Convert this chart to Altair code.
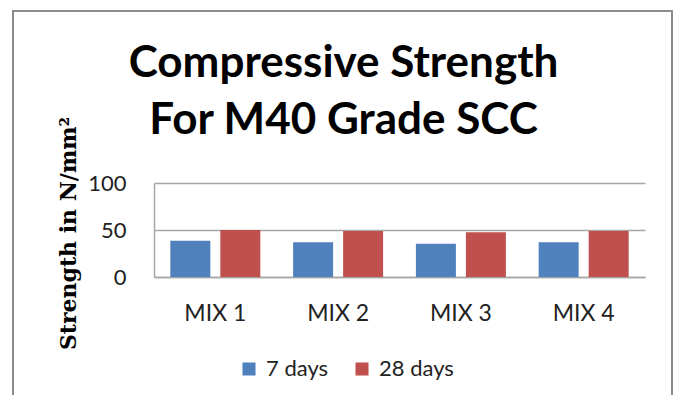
import altair as alt
import pandas as pd

categories = ["MIX 1", "MIX 2", "MIX 3", "MIX 4"]
seven_days = [38.5, 37, 35.5, 37]
twenty_eight_days = [50, 49, 47.5, 49]
series_names = ["7 days", "28 days"]
series_colors = ["#4F81BD", "#C0504D"]
y_ticks = [0, 50, 100]

rows = []
for c, a, b in zip(categories, seven_days, twenty_eight_days):
    rows.append({"mix": c, "age": series_names[0], "value": a})
    rows.append({"mix": c, "age": series_names[1], "value": b})
df = pd.DataFrame(rows)

bars = alt.Chart(df).mark_bar().encode(
    x=alt.X("mix:N", sort=categories,
            scale=alt.Scale(paddingInner=0.267, paddingOuter=0.133),
            axis=alt.Axis(title=None, labelAngle=0, ticks=False, labelPadding=25,
                          labelFont="Lato", labelFontSize=23, labelColor="#222222",
                          domainColor="#A6A6A6", domainWidth=1.5, grid=False)),
    xOffset=alt.XOffset("age:N", sort=series_names,
                        scale=alt.Scale(paddingInner=0.2, paddingOuter=0)),
    y=alt.Y("value:Q", scale=alt.Scale(domain=[0, 100], nice=False),
            axis=alt.Axis(values=y_ticks, title="Strength in N/mm²",
                          ticks=False, labelPadding=28,
                          labelFont="Lato", labelFontSize=22, labelColor="#222222",
                          domainColor="#A6A6A6", domainWidth=1.5,
                          gridColor="#A6A6A6", gridWidth=1.5,
                          titleFont="DejaVu Serif", titleFontWeight="bold",
                          titleFontSize=22, titleColor="#000000",
                          titleAngle=270, titleAlign="center", titleBaseline="middle",
                          titleX=-86, titleY=50)),
    color=alt.Color("age:N", sort=series_names,
                    scale=alt.Scale(domain=series_names, range=series_colors),
                    legend=alt.Legend(title=None, orient="none", direction="horizontal",
                                      legendX=84, legendY=175, symbolType="square",
                                      symbolSize=170, symbolStrokeWidth=0,
                                      labelFont="Lato", labelFontSize=22,
                                      labelColor="#222222", labelOffset=6,
                                      columnPadding=22, padding=0)),
)

frame = alt.Chart(pd.DataFrame({"a": [0]})).mark_rect(
    fillOpacity=0, stroke="#8C8C8C", strokeWidth=2
).encode(
    x=alt.value(-141), x2=alt.value(518), y=alt.value(-172), y2=alt.value(300)
)

chart = alt.layer(frame, bars).properties(
    width=491, height=94,
    title=alt.Title(["Compressive Strength", "For M40 Grade SCC"],
                    font="Lato", fontSize=44, fontWeight="bold", color="#000000",
                    anchor="middle", dx=-56, offset=-177, lineHeight=57,
                    baseline="bottom"),
    autosize=alt.AutoSizeParams(type="none"),
    padding={"left": 146, "top": 175, "right": 28, "bottom": 118},
).configure_view(stroke=None)

chart.save("out.html", embed_options={"renderer": "svg", "actions": False})
